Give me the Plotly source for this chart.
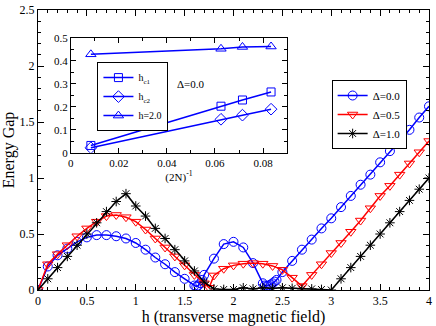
import plotly.graph_objects as go

# main panel: energy gap vs transverse field h
h_d00 = [0, 0.1, 0.2, 0.3, 0.4, 0.5, 0.6, 0.7, 0.8, 0.9, 1.0, 1.1, 1.2, 1.3, 1.4, 1.5,
         1.6, 1.62, 1.64, 1.66, 1.68, 1.7, 1.8, 1.9, 2.0, 2.1, 2.2, 2.3, 2.32, 2.34,
         2.36, 2.38, 2.4, 2.42, 2.44, 2.5, 2.6, 2.7, 2.8, 2.9, 3.0, 3.1, 3.2, 3.3,
         3.4, 3.5, 3.6, 3.7, 3.8, 3.9, 4.0]
gap_d00 = [0, 0.21, 0.31, 0.37, 0.43, 0.47, 0.49, 0.49, 0.48, 0.46, 0.42, 0.36, 0.29,
           0.23, 0.16, 0.10, 0.04, 0.03, 0.04, 0.06, 0.09, 0.135, 0.28, 0.41, 0.43,
           0.38, 0.24, 0.06, 0.04, 0.035, 0.04, 0.05, 0.06, 0.075, 0.09, 0.16, 0.26,
           0.36, 0.45, 0.55, 0.64, 0.74, 0.84, 0.94, 1.03, 1.14, 1.24, 1.33, 1.43,
           1.54, 1.64]

h_d05 = [0, 0.1, 0.2, 0.3, 0.4, 0.5, 0.6, 0.7, 0.8, 0.9, 1.0, 1.1, 1.2, 1.3, 1.4, 1.5,
         1.6, 1.7, 1.75, 1.8, 1.9, 2.0, 2.1, 2.2, 2.3, 2.4, 2.5, 2.6, 2.7, 2.8, 2.9,
         3.0, 3.1, 3.2, 3.3, 3.4, 3.5, 3.6, 3.7, 3.8, 3.9, 4.0]
gap_d05 = [0, 0.23, 0.32, 0.40, 0.48, 0.55, 0.61, 0.66, 0.67, 0.65, 0.61, 0.54, 0.46,
           0.38, 0.30, 0.22, 0.135, 0.06, 0.02, 0.13, 0.19, 0.22, 0.235, 0.24, 0.235,
           0.215, 0.18, 0.11, 0.035, 0.135, 0.23, 0.33, 0.42, 0.52, 0.62, 0.73, 0.84,
           0.93, 1.03, 1.13, 1.23, 1.33]

h_d10 = [0, 0.1, 0.2, 0.3, 0.4, 0.5, 0.6, 0.7, 0.8, 0.9, 1.0, 1.1, 1.2, 1.3, 1.4, 1.5,
         1.6, 1.7, 1.8, 1.9, 2.0, 2.1, 2.2, 2.3, 2.4, 2.5, 2.6, 2.7, 2.8, 2.9, 3.0,
         3.1, 3.2, 3.3, 3.4, 3.5, 3.6, 3.7, 3.8, 3.9, 4.0]
gap_d10 = [0, 0.1, 0.2, 0.3, 0.4, 0.5, 0.6, 0.7, 0.79, 0.86, 0.75, 0.66, 0.55, 0.46,
           0.36, 0.26, 0.17, 0.07, 0.01, 0.005, 0.005, 0.02, 0.01, 0.02, 0.015, 0.02,
           0.015, 0.01, 0.01, 0.005, 0, 0.1, 0.2, 0.3, 0.4, 0.5, 0.6, 0.7, 0.8, 0.9, 1.0]

# inset: finite size scaling vs (2N)^-1
inv_2n = [1 / 120, 1 / 16, 1 / 14, 1 / 12]
hc1 = [0.032, 0.203, 0.230, 0.265]
hc2 = [0.022, 0.146, 0.164, 0.190]
gap_h2 = [0.429, 0.453, 0.461, 0.463]

FONT = "Liberation Serif"
BLUE = "#0000ff"
RED = "#ff0000"

fig = go.Figure()

fig.add_trace(go.Scatter(x=h_d00, y=gap_d00, mode="lines+markers", name="Δ=0.0",
                         line=dict(color=BLUE, width=1.5),
                         marker=dict(symbol="circle-open", size=9, color=BLUE, line=dict(width=1))))
fig.add_trace(go.Scatter(x=h_d05, y=gap_d05, mode="lines+markers", name="Δ=0.5",
                         line=dict(color=RED, width=1.5),
                         marker=dict(symbol="triangle-down-open", size=9, color=RED, line=dict(width=1))))
fig.add_trace(go.Scatter(x=h_d10, y=gap_d10, mode="lines+markers", name="Δ=1.0",
                         line=dict(color="black", width=1.5),
                         marker=dict(symbol="asterisk-open", size=8, color="black", line=dict(width=1, color="black"))))

fig.add_trace(go.Scatter(x=inv_2n, y=hc1, mode="lines+markers", name="h<sub>c1</sub>",
                         xaxis="x2", yaxis="y2", legend="legend2",
                         line=dict(color=BLUE, width=1.5),
                         marker=dict(symbol="square-open", size=8, color=BLUE, line=dict(width=1))))
fig.add_trace(go.Scatter(x=inv_2n, y=hc2, mode="lines+markers", name="h<sub>c2</sub>",
                         xaxis="x2", yaxis="y2", legend="legend2",
                         line=dict(color=BLUE, width=1.5),
                         marker=dict(symbol="diamond-open", size=9, color=BLUE, line=dict(width=1))))
fig.add_trace(go.Scatter(x=inv_2n, y=gap_h2, mode="lines+markers", name="h=2.0",
                         xaxis="x2", yaxis="y2", legend="legend2",
                         line=dict(color=BLUE, width=1.5),
                         marker=dict(symbol="triangle-up-open", size=9, color=BLUE, line=dict(width=1))))

axis_style = dict(showline=True, linecolor="black", linewidth=1, mirror="ticks",
                  ticks="inside", tickcolor="black", showgrid=False, zeroline=False)

fig.update_layout(
    width=436, height=326,
    margin=dict(l=36, r=6, t=4, b=32),
    paper_bgcolor="white", plot_bgcolor="white",
    font=dict(family=FONT, size=12, color="black"),
    xaxis=dict(range=[0, 4], dtick=0.5, ticklen=6,
               minor=dict(ticks="inside", dtick=0.1, ticklen=3, tickcolor="black"),
               title=dict(text="h (transverse magnetic field)", font=dict(size=16), standoff=2),
               **axis_style),
    yaxis=dict(range=[0, 2.5], dtick=0.5, ticklen=6,
               minor=dict(ticks="inside", dtick=0.1, ticklen=3, tickcolor="black"),
               title=dict(text="Energy Gap", font=dict(size=16), standoff=4),
               **axis_style),
    xaxis2=dict(domain=[0.084, 0.637], anchor="y2", range=[0, 0.09], dtick=0.02,
                ticklen=5, tickfont=dict(size=11),
                minor=dict(ticks="inside", dtick=0.01, ticklen=3, tickcolor="black"),
                title=dict(text="(2N)<sup>-1</sup>", font=dict(size=11), standoff=3),
                **axis_style),
    yaxis2=dict(domain=[0.49, 0.9], anchor="x2", range=[0, 0.5], dtick=0.1,
                ticklen=5, tickfont=dict(size=11),
                minor=dict(ticks="inside", dtick=0.05, ticklen=3, tickcolor="black"),
                **axis_style),
    legend=dict(x=0.751, y=0.75, xanchor="left", yanchor="top",
                bgcolor="white", bordercolor="black", borderwidth=1,
                font=dict(size=11), tracegroupgap=0, itemwidth=30),
    legend2=dict(x=0.152, y=0.814, xanchor="left", yanchor="top",
                 bgcolor="white", bordercolor="black", borderwidth=1,
                 font=dict(size=10), tracegroupgap=0, itemwidth=30),
    annotations=[dict(text="Δ=0.0", x=0.05, y=0.3, xref="x2", yref="y2",
                      showarrow=False, font=dict(size=11))],
)

# page body has a default 8px margin; drop it so the figure sits at the window corner
fig.write_html("out.html", config={"displayModeBar": False},
               post_script="document.body.style.margin='0';")
